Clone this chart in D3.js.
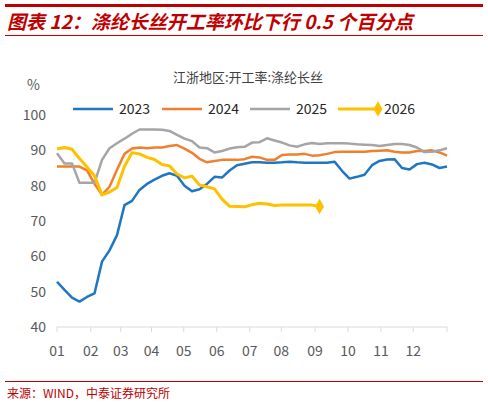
<!DOCTYPE html>
<html><head><meta charset="utf-8">
<script src="https://cdn.jsdelivr.net/npm/d3@7"></script>
<style>body{margin:0;background:#fff}</style>
</head><body><div id="chart"></div>
<script>
var width = 488, height = 405

var years = ['2023', '2024', '2025', '2026']
var colors = ['#1f77c4', '#f07f2e', '#a5a5a5', '#ffc000']
var monthLabels = ['01','02','03','04','05','06','07','08','09','10','11','12']
var monthTicks = [0, 4.5, 8.5, 12.6, 16.9, 21.3, 25.7, 29.9, 34.4, 38.8, 43.2, 47.5, 52]
var yTicks = [40, 50, 60, 70, 80, 90, 100]

var s2023 = [52.8,50.5,48.3,47.2,48.5,49.5,58.5,61.7,66,74.5,75.7,78.8,80.5,81.7,82.8,83.5,82.8,80,78.4,79,80.5,82.5,82.3,84.3,85.8,86.2,86.6,86.6,86.5,86.5,86.6,86.8,86.6,86.5,86.5,86.5,86.5,86.8,84.2,82,82.5,83.1,85.8,87,87.4,87.5,85,84.6,86.1,86.5,86,85,85.4]
var s2024 = [85.4,85.4,85.4,85.4,84.3,80.5,77.4,79.7,84.5,89,90.5,90.8,90.6,90.8,90.8,91.2,91.5,90.5,89.3,87.6,86.6,87,87.3,87.3,87.3,87.5,88.2,88,87.3,87.3,88.7,88.8,88.8,89,88.5,88.6,89,89.5,89.6,89.6,89.6,89.6,89.8,89.9,90,89.6,89.4,89.4,89.8,89.8,90,89.4,88.5]
var s2025 = [89.2,86.3,86.3,80.8,80.8,80.8,87.3,90.6,92,93.3,94.7,95.9,95.9,95.9,95.8,95.5,94.4,93.3,92.6,90.8,90.6,89.4,89.8,90.5,90.9,91,92.2,92.3,93.4,92.8,92.2,91.4,91,91.7,92.1,91.8,92,92,92,91.9,91.7,91.6,91.5,91.2,91.5,91.8,91.8,91.5,90.8,89.5,89.6,90,90.6]
var s2026 = [90.4,90.8,90.3,87.7,85.3,82.8,77.4,78.2,79.5,85.5,89.3,89,88,87.4,86,85.6,83.3,82.2,82.7,80.2,79.7,79.1,76.2,74.2,74.1,74,74.6,75,74.8,74.4,74.5,74.5,74.5,74.5,74.5,74.1]
var series = [s2023, s2024, s2025, s2026]

var red = '#c00000'
var font = '"Noto Sans CJK SC", "Noto Sans", sans-serif'

var svg = d3.select('#chart').append('svg').attr('width', width).attr('height', height)
  .style('font-family', font)

// header
svg.append('rect').attr('x', 5).attr('y', 4).attr('width', 478).attr('height', 3).attr('fill', red)
svg.append('text').attr('x', 7).attr('y', 29).attr('fill', red)
  .attr('font-size', 19).attr('font-weight', 'bold').attr('font-style', 'italic')
  .text('图表 12：涤纶长丝开工率环比下行 0.5 个百分点')
svg.append('rect').attr('x', 5).attr('y', 35).attr('width', 478).attr('height', 1).attr('fill', red)

// footer
svg.append('rect').attr('x', 5).attr('y', 381).attr('width', 478).attr('height', 1).attr('fill', red)
svg.append('text').attr('x', 7).attr('y', 398).attr('fill', red).attr('font-size', 12)
  .text('来源：WIND，中泰证券研究所')

svg.append('text').attr('x', 248).attr('y', 82).attr('text-anchor', 'middle')
  .attr('font-size', 13).attr('fill', '#404040').text('江浙地区:开工率:涤纶长丝')

var x = d3.scaleLinear().domain([0, 52]).range([57, 447])
var y = d3.scaleLinear().domain([40, 100]).range([327, 115])

// y labels
svg.append('g').selectAll('text').data(yTicks).enter().append('text')
  .attr('x', 46).attr('y', d => y(d) + 5).attr('text-anchor', 'end')
  .attr('font-size', 14).attr('fill', '#595959').text(d => d)
svg.append('text').attr('x', 27).attr('y', 90).attr('font-size', 14).attr('fill', '#595959').text('%')

// x axis
svg.append('line').attr('x1', x(0)).attr('x2', x(52)).attr('y1', y(40)).attr('y2', y(40))
  .attr('stroke', '#d9d9d9')
svg.append('g').selectAll('line').data(monthTicks).enter().append('line')
  .attr('x1', d => x(d)).attr('x2', d => x(d)).attr('y1', y(40)).attr('y2', y(40) + 5)
  .attr('stroke', '#d9d9d9')
svg.append('g').selectAll('text').data(monthLabels).enter().append('text')
  .attr('x', (d, i) => x(monthTicks[i])).attr('y', 356).attr('text-anchor', 'middle')
  .attr('font-size', 14).attr('fill', '#595959').text(d => d)

var line = d3.line().x((d, i) => x(i)).y(d => y(d))

series.forEach((s, k) => {
  svg.append('path').datum(s).attr('d', line).attr('fill', 'none')
    .attr('stroke', colors[k]).attr('stroke-width', k == 3 ? 3 : 2.5).attr('stroke-linejoin', 'round')
})
var last = s2026.length - 1
svg.append('path').attr('d', d3.symbol(d3.symbolDiamond, 70)())
  .attr('transform', `translate(${x(last)},${y(s2026[last])})`).attr('fill', colors[3])

// legend
var legX = [73, 162, 250, 338]
years.forEach((yr, k) => {
  var g = svg.append('g').attr('transform', `translate(${legX[k]},109)`)
  g.append('line').attr('x1', 0).attr('x2', 40).attr('stroke', colors[k]).attr('stroke-width', k == 3 ? 3 : 2.5)
  if (k == 3) g.append('path').attr('d', d3.symbol(d3.symbolDiamond, 70)()).attr('transform', 'translate(40,0)').attr('fill', colors[k])
  g.append('text').attr('x', 46).attr('y', 5).attr('font-size', 14).attr('fill', '#262626').text(yr)
})
</script></body></html>
